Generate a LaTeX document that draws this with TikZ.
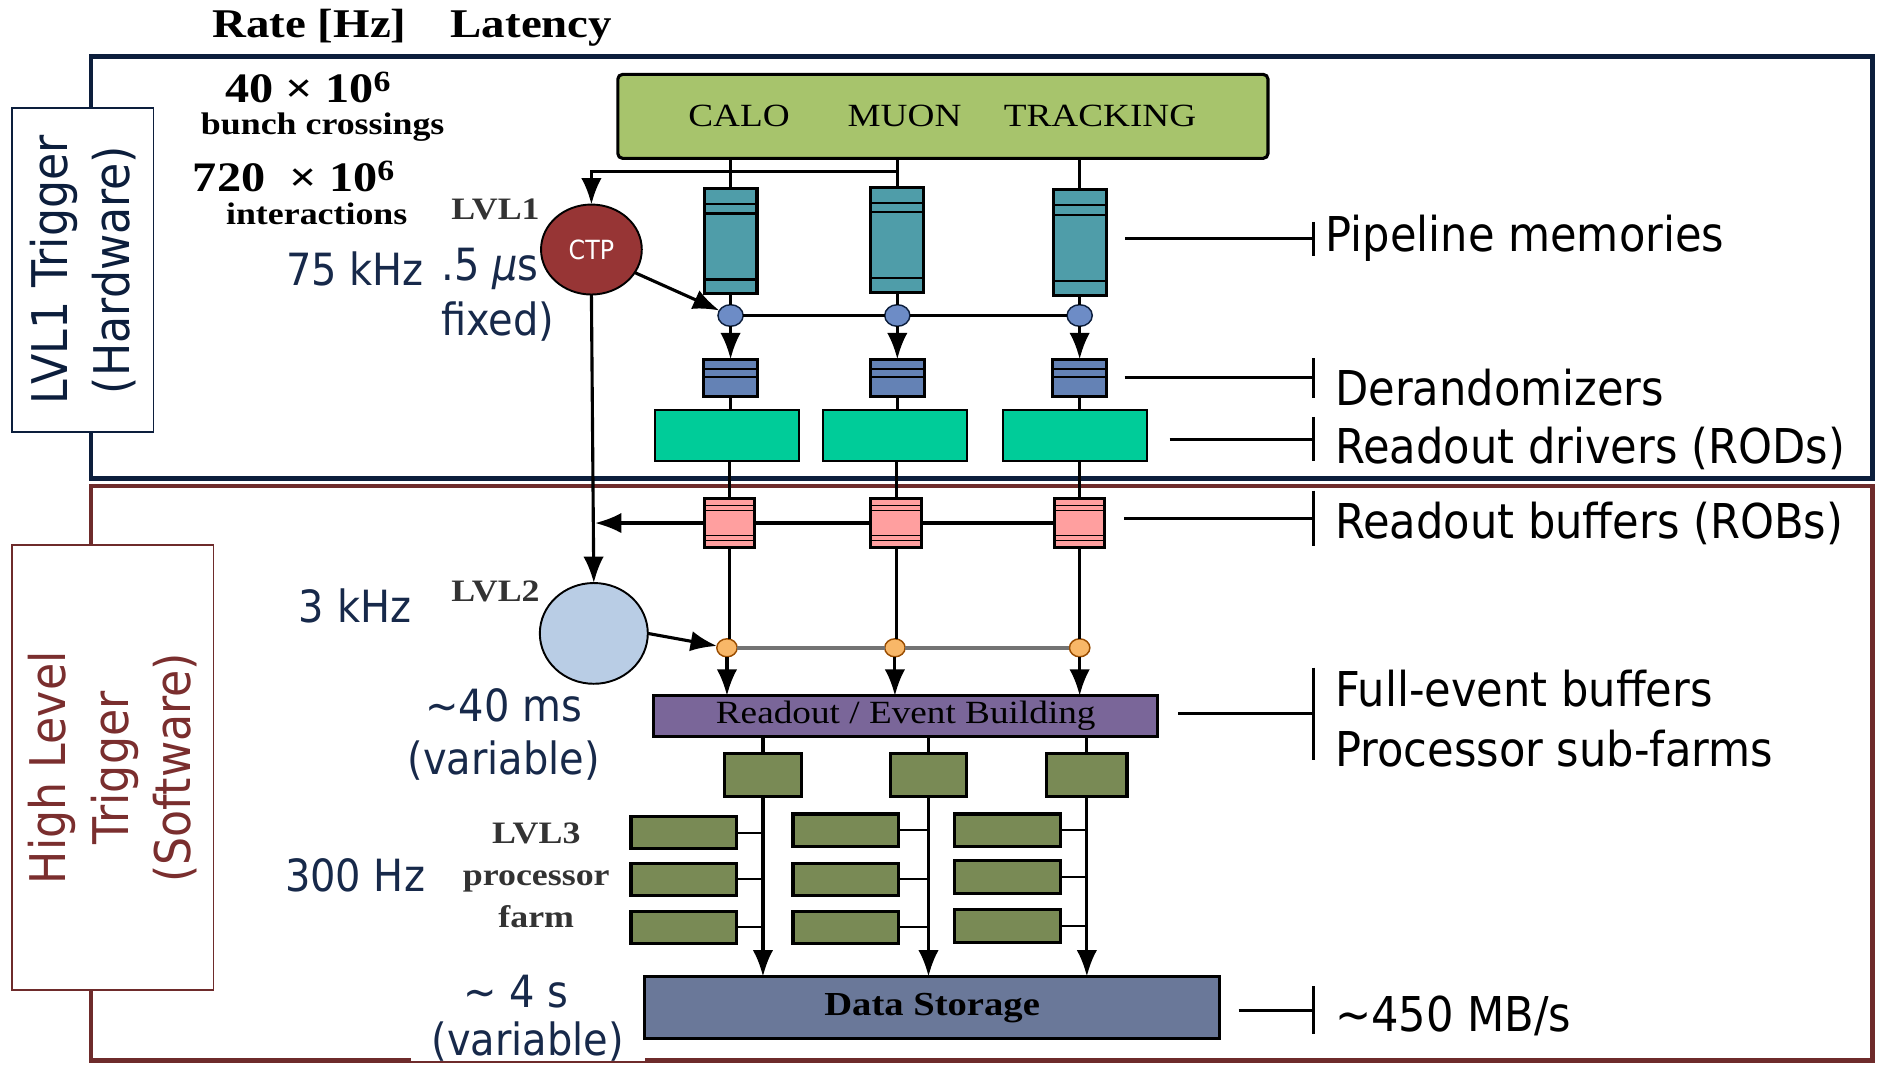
\documentclass[tikz,border=0pt]{standalone}
\usepackage{fontspec}
\setmainfont{Liberation Serif}
\newfontfamily\figserif[FakeStretch=1.15]{Liberation Serif}
\newfontfamily\slidesans[FakeStretch=0.9]{DejaVu Sans}
\usetikzlibrary{calc}
\usetikzlibrary{arrows.meta}
\usetikzlibrary{shapes}
\definecolor{navyframe}{HTML}{0C1E3C}
\definecolor{hltred}{HTML}{6E2B2B}
\definecolor{hlttext}{HTML}{7A2E2E}
\definecolor{ratetext}{HTML}{17294A}
\definecolor{detgreen}{HTML}{A7C46C}
\definecolor{pipeteal}{HTML}{4F9DA9}
\definecolor{derblue}{HTML}{6482B5}
\definecolor{rodgreen}{HTML}{00CC99}
\definecolor{robpink}{HTML}{FF9F9F}
\definecolor{ctpred}{HTML}{973535}
\definecolor{lvltwoblue}{HTML}{B9CDE5}
\definecolor{dotblue}{HTML}{6D8CC6}
\definecolor{dotorange}{HTML}{F8B768}
\definecolor{evbpurple}{HTML}{7A6699}
\definecolor{farmgreen}{HTML}{798A55}
\definecolor{storeblue}{HTML}{6A7899}

\begin{document}
\begin{tikzpicture}[x=1pt,y=-1pt,>={Latex[length=22pt,width=17pt]},
    every node/.style={inner sep=0pt,outer sep=0pt},
    wire/.style={line width=2.6pt},
    stub/.style={line width=1.7pt},
    box/.style={draw,line width=2.6pt},
    stripe/.style={line width=1.8pt},
    pipe/.style={box,fill=pipeteal,minimum width=44pt,minimum height=88pt,
      path picture={
        \draw[stripe] ([yshift=-13pt]path picture bounding box.north west) -- ([yshift=-13pt]path picture bounding box.north east);
        \draw[stripe] ([yshift=-21pt]path picture bounding box.north west) -- ([yshift=-21pt]path picture bounding box.north east);
        \draw[stripe] ([yshift=12pt]path picture bounding box.south west) -- ([yshift=12pt]path picture bounding box.south east);}},
    der/.style={box,fill=derblue,minimum width=45pt,minimum height=31pt,
      path picture={
        \draw[stripe] ([yshift=-8pt]path picture bounding box.north west) -- ([yshift=-8pt]path picture bounding box.north east);
        \draw[stripe] ([yshift=-15pt]path picture bounding box.north west) -- ([yshift=-15pt]path picture bounding box.north east);}},
    rod/.style={draw,line width=1.4pt,fill=rodgreen,minimum width=120pt,minimum height=42pt},
    rob/.style={box,fill=robpink,minimum width=42pt,minimum height=41pt,
      path picture={
        \draw[line width=0.9pt] ([yshift=-6pt]path picture bounding box.north west) -- ([yshift=-6pt]path picture bounding box.north east);
        \draw[line width=0.9pt] ([yshift=-10pt]path picture bounding box.north west) -- ([yshift=-10pt]path picture bounding box.north east);
        \draw[line width=0.9pt] ([yshift=6pt]path picture bounding box.south west) -- ([yshift=6pt]path picture bounding box.south east);
        \draw[line width=0.9pt] ([yshift=10pt]path picture bounding box.south west) -- ([yshift=10pt]path picture bounding box.south east);}},
    bdot/.style={ellipse,draw=navyframe,line width=1.2pt,fill=dotblue,minimum width=21pt,minimum height=18pt},
    odot/.style={ellipse,draw=orange!60!black,line width=1.2pt,fill=dotorange,minimum width=17pt,minimum height=15pt},
    farm/.style={box,fill=farmgreen,minimum width=64pt,minimum height=36pt},
    proc/.style={box,fill=farmgreen,minimum width=88pt,minimum height=27pt},
    figtext/.style={font=\figserif\fontsize{#1}{#1}\selectfont},
    figbold/.style={font=\figserif\bfseries\fontsize{#1}{#1}\selectfont},
    lvltext/.style={font=\figserif\bfseries\fontsize{26}{35}\selectfont,text=black!80,align=center},
    rate/.style={font=\slidesans\fontsize{37}{44}\selectfont,text=ratetext,align=center},
    desc/.style={font=\slidesans\fontsize{40}{50}\selectfont,anchor=west,align=left},
    sidebox/.style={fill=white,line width=1.4pt,rotate=90,align=center,font=\slidesans\fontsize{41}{52}\selectfont}]
  \useasboundingbox (0,0) rectangle (1568,889);
  % trigger level frames
  \draw[navyframe,line width=3.6pt] (76,47) rectangle (1561,399);
  \draw[hltred,line width=3.6pt] (76,405) rectangle (1561,884);
  \node[sidebox,draw=navyframe,text=navyframe,minimum width=270pt,minimum height=118pt] (lvlonebox) at (69,225) {LVL1 Trigger\\(Hardware)};
  \node[sidebox,draw=hltred,text=hlttext,minimum width=371pt,minimum height=168pt] (hltbox) at (94,640) {High Level\\Trigger\\(Software)};
  % headers and rates
  \node[figbold=34] (ratehead) at (258,22) {Rate [Hz]};
  \node[figbold=34] (lathead) at (443,24) {Latency};
  \node[figbold=35] (bxrate) at (257,73) {40 × 10\textsuperscript{6}};
  \node[figbold=26] (bxtext) at (269,106) {bunch crossings};
  \node[figbold=35] (intrate) at (245,147) {720\ \ × 10\textsuperscript{6}};
  \node[figbold=26] (inttext) at (264,178) {interactions};
  \node[lvltext] (lvlone) at (413,175) {LVL1};
  \node[lvltext] (lvltwo) at (413,493) {LVL2};
  \node[lvltext] (lvlthree) at (447,730) {LVL3\\processor\\farm};
  \node[rate,anchor=west] (latone) at (347,224) {2.5 \textit{μ}s};
  \node[rate,fill=white,inner xsep=12pt,inner ysep=4pt] (rateone) at (296,224) {75 kHz};
  \node[rate] (latonefix) at (415,268) {fixed)};
  \node[rate] (ratetwo) at (296,505) {3 kHz};
  \node[rate] (lattwo) at (420,612) {\textasciitilde40 ms\\(variable)};
  \node[rate] (ratethree) at (296,730) {300 Hz};
  \node[rate] (latthree) at (430,827) {\textasciitilde{} 4 s};
  \node[rate,fill=white,minimum width=195pt,minimum height=30pt] (latthreevar) at (440,868) {(variable)};
  % detectors and LVL1
  \node[box,rounded corners=4pt,fill=detgreen,minimum width=542pt,minimum height=70pt] (det) at (786,97) {};
  \node[figtext=27] (calo) at (616,97) {CALO};
  \node[figtext=27] (muon) at (754,97) {MUON};
  \node[figtext=27] (tracking) at (917,97) {TRACKING};
  \node[ellipse,draw,line width=1.6pt,fill=ctpred,minimum width=84pt,minimum height=75pt,text=white,font=\slidesans\fontsize{22}{22}\selectfont] (ctp) at (493,208) {CTP};
  \node[pipe] (pipe1) at (609,201) {};
  \node[pipe] (pipe2) at (748,200) {};
  \node[pipe] (pipe3) at (900,202) {};
  \node[bdot] (bdot1) at (609,263) {};
  \node[bdot] (bdot2) at (748,263) {};
  \node[bdot] (bdot3) at (900,263) {};
  \node[der] (der1) at (609,315) {};
  \node[der] (der2) at (748,315) {};
  \node[der] (der3) at (900,315) {};
  \node[rod] (rod1) at (606,363) {};
  \node[rod] (rod2) at (746,363) {};
  \node[rod] (rod3) at (896,363) {};
  % LVL2 and event building
  \node[rob] (rob1) at (608,436) {};
  \node[rob] (rob2) at (747,436) {};
  \node[rob] (rob3) at (900,436) {};
  \node[ellipse,draw,line width=1.6pt,fill=lvltwoblue,minimum width=90pt,minimum height=84pt] (lvltwoproc) at (495,528) {};
  \node[odot] (odot1) at (606,540) {};
  \node[odot] (odot2) at (746,540) {};
  \node[odot] (odot3) at (900,540) {};
  \node[box,fill=evbpurple,minimum width=420pt,minimum height=34pt,figtext=27] (evb) at (755,597) {Readout / Event Building};
  \node[farm] (sub1) at (636,646) {};
  \node[farm] (sub2) at (774,646) {};
  \node[farm,minimum width=67pt] (sub3) at (906,646) {};
  \node[proc] (proc1a) at (570,694) {};
  \node[proc] (proc1b) at (570,733) {};
  \node[proc] (proc1c) at (570,773) {};
  \node[proc] (proc2a) at (705,692) {};
  \node[proc] (proc2b) at (705,733) {};
  \node[proc] (proc2c) at (705,773) {};
  \node[proc] (proc3a) at (840,692) {};
  \node[proc] (proc3b) at (840,731) {};
  \node[proc] (proc3c) at (840,772) {};
  \node[box,fill=storeblue,minimum width=479pt,minimum height=52pt,figbold=28] (store) at (777,840) {Data Storage};
  % connections
  \draw[wire] (pipe1.north |- det.south) -- (pipe1.north);
  \draw[wire] (pipe2.north |- det.south) -- (pipe2.north);
  \draw[wire] (pipe3.north |- det.south) -- (pipe3.north);
  \coordinate (ctpfeed) at (748,143);
  \draw[wire,->] (ctpfeed) -| (ctp.north);
  \draw[wire] (pipe1.south) -- (bdot1);
  \draw[wire] (pipe2.south) -- (bdot2);
  \draw[wire] (pipe3.south) -- (bdot3);
  \draw[line width=3pt] (bdot1) -- (bdot2) -- (bdot3);
  \draw[wire,->] (ctp.-28) -- (bdot1);
  \draw[wire,->] (bdot1) -- (der1.north);
  \draw[wire,->] (bdot2) -- (der2.north);
  \draw[wire,->] (bdot3) -- (der3.north);
  \draw[wire] (der1.south) -- (der1.south |- rod1.north);
  \draw[wire] (der2.south) -- (der2.south |- rod2.north);
  \draw[wire] (der3.south) -- (der3.south |- rod3.north);
  \draw[wire] (rob1.north |- rod1.south) -- (rob1.north);
  \draw[wire] (rob2.north |- rod2.south) -- (rob2.north);
  \draw[wire] (rob3.north |- rod3.south) -- (rob3.north);
  \draw[wire] (rob3.west) -- (rob2.east);
  \draw[wire] (rob2.west) -- (rob1.east);
  \coordinate (robtap) at (ctp.south |- rob1.west);
  \draw[wire,->] (rob1.west) -- ([xshift=3pt]robtap);
  \draw[wire,->] (ctp.south) -- (lvltwoproc.north);
  \draw[wire] (rob1.south) -- (rob1.south |- odot1.north);
  \draw[wire] (rob2.south) -- (rob2.south |- odot2.north);
  \draw[wire] (rob3.south) -- (odot3);
  \draw[line width=3pt,black!55] (odot1) -- (odot2) -- (odot3);
  \draw[wire,->] (lvltwoproc.east) -- (odot1);
  \draw[wire,->] (odot1) -- (odot1 |- evb.north);
  \draw[wire,->] (odot2) -- (odot2 |- evb.north);
  \draw[wire,->] (odot3) -- (odot3 |- evb.north);
  \draw[wire] (sub1.north |- evb.south) -- (sub1.north);
  \draw[wire] (sub2.north |- evb.south) -- (sub2.north);
  \draw[wire] (sub3.north |- evb.south) -- (sub3.north);
  \draw[wire,->] (sub1.south) -- (sub1.south |- store.north);
  \draw[wire,->] (sub2.south) -- (sub2.south |- store.north);
  \draw[wire,->] (sub3.south) -- (sub3.south |- store.north);
  \draw[stub] (proc1a.east) -- (proc1a.east -| sub1.south);
  \draw[stub] (proc1b.east) -- (proc1b.east -| sub1.south);
  \draw[stub] (proc1c.east) -- (proc1c.east -| sub1.south);
  \draw[stub] (proc2a.east) -- (proc2a.east -| sub2.south);
  \draw[stub] (proc2b.east) -- (proc2b.east -| sub2.south);
  \draw[stub] (proc2c.east) -- (proc2c.east -| sub2.south);
  \draw[stub] (proc3a.east) -- (proc3a.east -| sub3.south);
  \draw[stub] (proc3b.east) -- (proc3b.east -| sub3.south);
  \draw[stub] (proc3c.east) -- (proc3c.east -| sub3.south);
  % labels on the right
  \coordinate (pipebar) at (1096,199);
  \coordinate (derbar) at (1096,315);
  \coordinate (rodbar) at (1096,366);
  \coordinate (robbar) at (1096,432);
  \coordinate (evbbar) at (1096,595);
  \coordinate (storebar) at (1096,842);
  \node[desc] (pipetext) at (1105,199) {Pipeline memories};
  \node[desc] (dertext) at (1113,323) {Derandomizers};
  \node[desc] (rodtext) at (1113,374) {Readout drivers (RODs)};
  \node[desc] (robtext) at (1113,436) {Readout buffers (ROBs)};
  \node[desc] (evbtext) at (1113,599) {Full-event buffers\\Processor sub-farms};
  \node[desc] (storetext) at (1113,847) {\textasciitilde450 MB/s};
  \draw[wire,-{Bar[width=28pt]},shorten <=16pt] (pipe3.east |- pipebar) -- (pipebar);
  \draw[wire,-{Bar[width=33pt]},shorten <=15pt] (der3.east |- derbar) -- (derbar);
  \draw[wire,-{Bar[width=37pt]},shorten <=19pt] (rod3.east |- rodbar) -- (rodbar);
  \draw[wire,-{Bar[width=46pt]},shorten <=16pt] (rob3.east |- robbar) -- (robbar);
  \draw[wire,-{Bar[width=77pt]},shorten <=17pt] (evb.east |- evbbar) -- (evbbar);
  \draw[wire,-{Bar[width=40pt]},shorten <=16pt] (store.east |- storebar) -- (storebar);
\end{tikzpicture}
\end{document}
